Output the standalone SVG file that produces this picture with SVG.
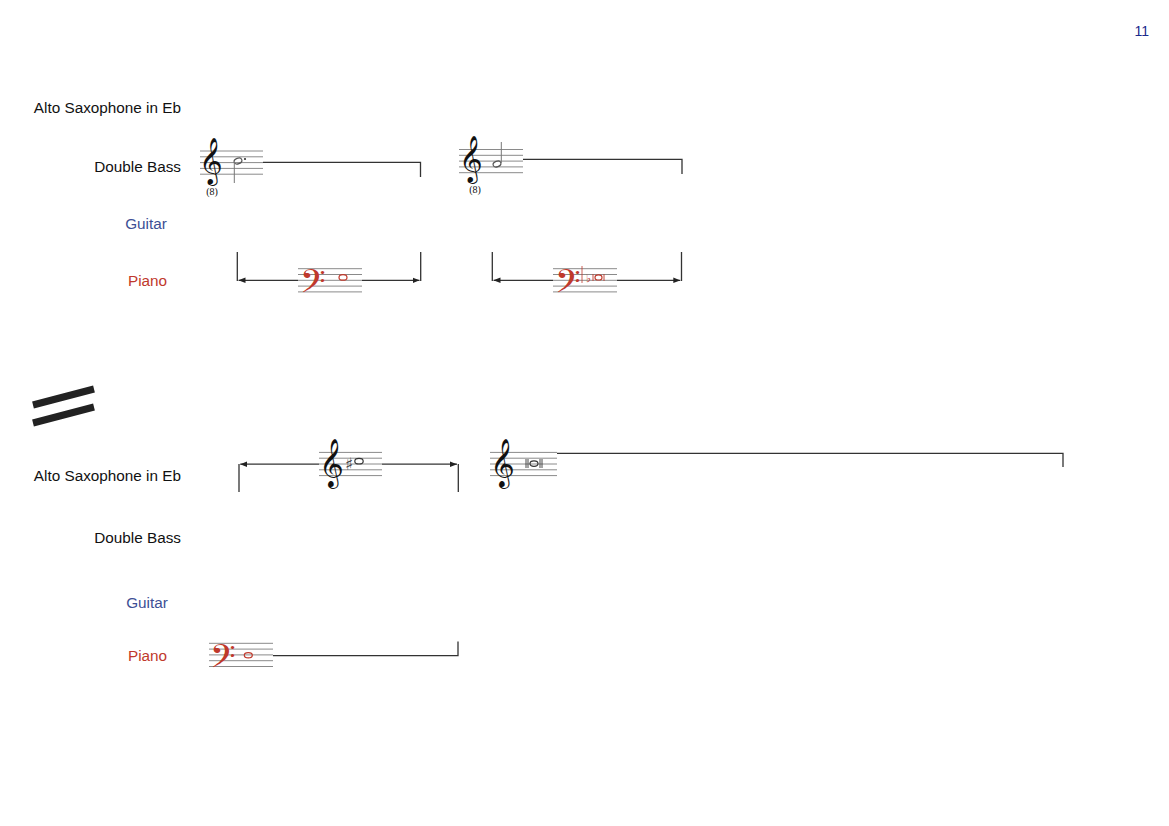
<svg xmlns="http://www.w3.org/2000/svg" width="1169" height="826" viewBox="0 0 1169 826">
<defs>
<style>
.lbl{font-family:"Liberation Sans",Arial,sans-serif;font-size:15.3px;fill:#111}
.gtr{fill:#3d4f95}
.pno{fill:#c0392b}
.staff{stroke:#8a8a8a;stroke-width:1;fill:none}
.ext{stroke:#333;stroke-width:1.3;fill:none}
.clef{font-family:"DejaVu Sans","Noto Sans",sans-serif}
.note{fill:none;stroke-width:1.2}
.oct{font-family:"Liberation Serif",serif;font-size:10px;fill:#111}
</style>
<marker id="ah" viewBox="0 0 10 10" refX="10" refY="5" markerWidth="7" markerHeight="7" orient="auto-start-reverse" markerUnits="userSpaceOnUse">
<path d="M0,1 L10,5 L0,9 z" fill="#222"/>
</marker>
</defs>
<rect width="1169" height="826" fill="#fff"/>
<text x="1149" y="36" text-anchor="end" style="font-family:'Liberation Sans',Arial,sans-serif;font-size:14px;fill:#1a2a8c">11</text>

<g id="labels-system1">
<text class="lbl" x="181" y="113" text-anchor="end">Alto Saxophone in Eb</text>
<text class="lbl" x="181" y="172" text-anchor="end">Double Bass</text>
<text class="lbl gtr" x="146" y="229" text-anchor="middle">Guitar</text>
<text class="lbl pno" x="147.5" y="286" text-anchor="middle">Piano</text>
</g>

<g id="bass-m1">
<path class="staff" d="M200,151H263M200,156.8H263M200,162.6H263M200,168.4H263M200,174.2H263"/>
<text class="clef" x="199" y="174" font-size="40" fill="#111">𝄞</text>
<text class="oct" x="212" y="195" text-anchor="middle">(8)</text>
<ellipse cx="238" cy="161" rx="4" ry="2.8" transform="rotate(-20 238 161)" class="note" stroke="#555"/>
<path d="M234.3,162V183" stroke="#777" stroke-width="1"/>
<circle cx="245" cy="159" r="1.1" fill="#333"/>
</g>
<g id="bass-m2">
<path class="staff" d="M459,149.5H523M459,155.3H523M459,161.1H523M459,166.9H523M459,172.7H523"/>
<text class="clef" x="459" y="172" font-size="40" fill="#111">𝄞</text>
<text class="oct" x="475" y="193" text-anchor="middle">(8)</text>
<ellipse cx="497" cy="164" rx="4" ry="2.8" transform="rotate(-20 497 164)" class="note" stroke="#555"/>
<path d="M501.3,163V142" stroke="#777" stroke-width="1"/>
</g>

<g id="piano-m1">
<path class="staff" d="M298,268.7H362M298,274.5H362M298,280.3H362M298,286.1H362M298,291.9H362"/>
<text class="clef" x="300" y="299" font-size="40" fill="#c0392b">𝄢</text>
<ellipse cx="343" cy="277.4" rx="4" ry="2.8" class="note" stroke="#c0392b"/>
</g>
<g id="piano-m2">
<path class="staff" d="M553,268.7H617M553,274.5H617M553,280.3H617M553,286.1H617M553,291.9H617"/>
<text class="clef" x="555" y="299" font-size="40" fill="#c0392b">𝄢</text>
<path d="M582,266V283" stroke="#c0392b" stroke-width="0.8"/>
<text x="586" y="282" font-family="DejaVu Sans,sans-serif" font-size="11" fill="#c0392b">♭</text>
<path d="M593,274V281M604,274V281" stroke="#c0392b" stroke-width="0.9"/>
<ellipse cx="598.5" cy="277.4" rx="3.5" ry="2.6" class="note" stroke="#c0392b"/>
</g>

<g id="separator">
<path d="M33,405L94,389M33,423L94,407" stroke="#222" stroke-width="7"/>
</g>

<g id="labels-system2">
<text class="lbl" x="181" y="481" text-anchor="end">Alto Saxophone in Eb</text>
<text class="lbl" x="181" y="543" text-anchor="end">Double Bass</text>
<text class="lbl gtr" x="147" y="608" text-anchor="middle">Guitar</text>
<text class="lbl pno" x="147.5" y="661" text-anchor="middle">Piano</text>
</g>

<g id="sax-m1">
<path class="staff" d="M319,452.4H382M319,458.2H382M319,464H382M319,469.8H382M319,475.6H382"/>
<text class="clef" x="319" y="477" font-size="42" fill="#111">𝄞</text>
<text x="345" y="470" font-family="DejaVu Sans,sans-serif" font-size="17" fill="#444">♯</text>
<ellipse cx="359" cy="461.2" rx="4.2" ry="2.8" class="note" stroke="#333"/>
</g>
<g id="sax-m2">
<path class="staff" d="M490,452.4H557M490,458.2H557M490,464H557M490,469.8H557M490,475.6H557"/>
<text class="clef" x="490" y="477" font-size="42" fill="#111">𝄞</text>
<path d="M526,459V468M528,459V468M540,459V468M542,459V468" stroke="#333" stroke-width="0.9"/>
<ellipse cx="534" cy="463.6" rx="4" ry="2.8" class="note" stroke="#333"/>
</g>

<g id="piano-m3">
<path class="staff" d="M209,643.3H273M209,649.1H273M209,654.9H273M209,660.7H273M209,666.5H273"/>
<text class="clef" x="210" y="674" font-size="40" fill="#c0392b">𝄢</text>
<ellipse cx="248.3" cy="655.3" rx="4" ry="2.6" class="note" stroke="#c0392b"/>
</g>

<g id="connectors">
<path class="ext" d="M263,162.3H420.5V177"/>
<path class="ext" d="M523,159.3H682V174"/>
<path class="ext" d="M237.3,252V281M420.7,252V281"/>
<path class="ext" d="M298,280.3H238.5" marker-end="url(#ah)"/>
<path class="ext" d="M362,280.3H419.5" marker-end="url(#ah)"/>
<path class="ext" d="M492.3,252V281M681.5,252V281"/>
<path class="ext" d="M553,280.3H493.5" marker-end="url(#ah)"/>
<path class="ext" d="M617,280.3H680.3" marker-end="url(#ah)"/>
<path class="ext" d="M239,464V492M458.3,464V492"/>
<path class="ext" d="M319,464.2H240.2" marker-end="url(#ah)"/>
<path class="ext" d="M382,464.2H457" marker-end="url(#ah)"/>
<path class="ext" d="M557,453.3H1063V467"/>
<path class="ext" d="M273,655.7H458V641.5"/>
</g>
</svg>
